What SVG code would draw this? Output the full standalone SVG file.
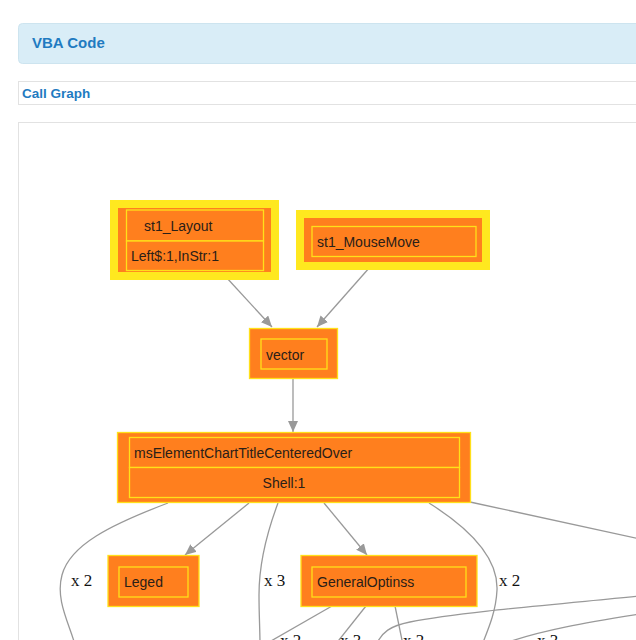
<svg xmlns="http://www.w3.org/2000/svg" width="636" height="640" viewBox="0 0 636 640">
<defs>
<style>
.lbl{font-family:"Liberation Sans",Arial,sans-serif;font-size:14px;fill:#2a2018}
.cnt{font-family:"Liberation Serif","Times New Roman",serif;font-size:17px;fill:#111}
.edge{fill:none;stroke:#999;stroke-width:1.3}
.org{fill:#ff7f1e}
.cell{fill:#ff7f1e;stroke:#ffe01a;stroke-width:1.3}
.ylw{fill:#ffe81f}
</style>
<marker id="ah" markerUnits="userSpaceOnUse" markerWidth="12" markerHeight="10" refX="11" refY="5" orient="auto">
<path d="M0,0 L11,5 L0,10 z" fill="#999"/>
</marker>
</defs>
<rect width="636" height="640" fill="#ffffff"/>
<g id="header">
<rect x="18.5" y="23.5" width="640" height="40" rx="4" fill="#d9edf7" stroke="#cde4ef"/>
<text x="32" y="48" font-family="Liberation Sans,Arial,sans-serif" font-size="15" font-weight="bold" fill="#1f7bc1">VBA Code</text>
</g>
<g id="callgraph-title">
<rect x="18.5" y="81.5" width="640" height="23" fill="#ffffff" stroke="#e2e2e2"/>
<text x="22" y="98" font-family="Liberation Sans,Arial,sans-serif" font-size="13.5" font-weight="bold" fill="#1f7bc1">Call Graph</text>
</g>
<rect x="18.5" y="122.5" width="640" height="540" fill="#ffffff" stroke="#e2e2e2"/>
<g id="connectors">
<path class="edge" d="M226,277 L272,327" marker-end="url(#ah)"/>
<path class="edge" d="M370,267 L317,327" marker-end="url(#ah)"/>
<path class="edge" d="M293,379 L293,432" marker-end="url(#ah)"/>
<path class="edge" d="M249,503 L185,555" marker-end="url(#ah)"/>
<path class="edge" d="M324,503 L367,555" marker-end="url(#ah)"/>
<path class="edge" d="M168,503 C110,525 70,545 62,575 C55,600 70,625 75,645"/>
<path class="edge" d="M278,503 C266,535 259,565 259,595 C259,615 260,630 260,645"/>
<path class="edge" d="M429,503 C480,535 498,565 497,590 C496,610 490,625 482,645"/>
<path class="edge" d="M470,502 L640,539"/>
<path class="edge" d="M332,606 L264,645"/>
<path class="edge" d="M366,606 L335,645"/>
<path class="edge" d="M395,606 L403,645"/>
<path class="edge" d="M640,596 C560,604 460,612 410,622 C390,626 382,632 376,645"/>
<path class="edge" d="M640,614 C590,622 540,630 500,645"/>
<text class="cnt" x="71" y="586">x 2</text>
<text class="cnt" x="264" y="586">x 3</text>
<text class="cnt" x="499" y="586">x 2</text>
<text class="cnt" x="280" y="646">x 2</text>
<text class="cnt" x="340" y="646">x 3</text>
<text class="cnt" x="403" y="646">x 2</text>
<text class="cnt" x="537" y="646">x 3</text>
</g>
<g id="st1_Layout">
<rect class="ylw" x="110" y="200" width="169" height="80"/>
<rect class="org" x="118" y="208" width="153" height="64"/>
<rect class="cell" x="126.5" y="210" width="137" height="31"/>
<rect class="cell" x="126.5" y="241" width="137" height="29.5"/>
<text class="lbl" x="144" y="231">st1_Layout</text>
<text class="lbl" x="131" y="261">Left$:1,InStr:1</text>
</g>
<g id="st1_MouseMove">
<rect class="ylw" x="296" y="210" width="194" height="60"/>
<rect class="org" x="304" y="218" width="178" height="44"/>
<rect class="cell" x="312" y="226.5" width="164" height="30"/>
<text class="lbl" x="317" y="247">st1_MouseMove</text>
</g>
<g id="vector">
<rect class="cell" x="249.5" y="328.5" width="88" height="50"/>
<rect class="cell" x="261" y="339" width="66" height="30"/>
<text class="lbl" x="266" y="360">vector</text>
</g>
<g id="msElementChartTitleCenteredOver">
<rect class="cell" x="117.5" y="432.5" width="353" height="70"/>
<rect class="cell" x="129.5" y="437.5" width="330" height="30"/>
<rect class="cell" x="129.5" y="467.5" width="330" height="30"/>
<text class="lbl" x="134" y="458">msElementChartTitleCenteredOver</text>
<text class="lbl" x="284" y="488" text-anchor="middle">Shell:1</text>
</g>
<g id="Leged">
<rect class="cell" x="108" y="555.5" width="91" height="51"/>
<rect class="cell" x="119" y="567" width="69" height="30"/>
<text class="lbl" x="124" y="587">Leged</text>
</g>
<g id="GeneralOptinss">
<rect class="cell" x="301" y="555.5" width="176" height="51"/>
<rect class="cell" x="312" y="567" width="154" height="30"/>
<text class="lbl" x="317" y="587">GeneralOptinss</text>
</g>
</svg>
